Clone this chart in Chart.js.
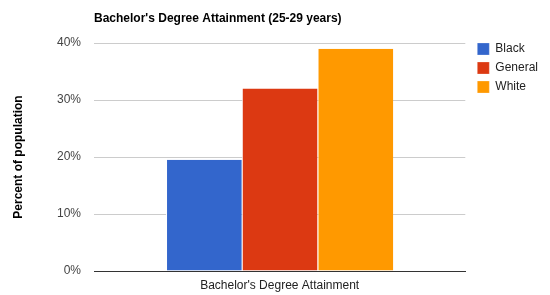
<!DOCTYPE html>
<html>
<head>
<meta charset="utf-8">
<script src="https://cdn.jsdelivr.net/npm/chart.js@4/dist/chart.umd.min.js"></script>
<style>
html,body{margin:0;padding:0;background:#fff;}
canvas{display:block;}
</style>
</head>
<body>
<canvas id="c" width="550" height="295"></canvas>
<script>
const categories = ["Bachelor's Degree Attainment"];
const seriesNames = ["Black", "General", "White"];
const blackValues = [19.5];
const generalValues = [32];
const whiteValues = [39];
const seriesColors = ["#3366cc", "#dc3912", "#ff9900"];
const yTicks = [0, 10, 20, 30, 40];
const chartTitle = "Bachelor's Degree Attainment (25-29 years)";
const yTitle = "Percent of population";

const FONT = "Arial, 'Liberation Sans', sans-serif";

const legendNudge = {
  id: 'legendNudge',
  afterLayout(chart) {
    const l = chart.legend;
    if (!l) return;
    const dx = 5, dy = -7;
    l.left += dx; l.right += dx; l.top += dy; l.bottom += dy;
  }
};

const seriesValues = [blackValues, generalValues, whiteValues];

new Chart(document.getElementById('c'), {
  type: 'bar',
  data: {
    labels: categories,
    datasets: seriesNames.map((n, i) => ({
      label: n,
      data: seriesValues[i],
      backgroundColor: seriesColors[i],
      borderColor: '#ffffff',
      borderWidth: {left: 1, right: 0, top: 0, bottom: 0},
      borderSkipped: false,
      barPercentage: 1,
      categoryPercentage: 0.612
    }))
  },
  options: {
    responsive: false,
    animation: false,
    layout: { padding: { left: 0, right: 7, top: 0, bottom: 0 } },
    plugins: {
      title: {
        display: true,
        text: chartTitle,
        align: 'start',
        fullSize: false,
        color: '#000',
        font: { family: FONT, size: 12, weight: 'bold' },
        padding: { top: 11, bottom: 17.6 }
      },
      legend: {
        display: true,
        position: 'right',
        align: 'start',
        fullSize: false,
        labels: {
          boxWidth: 12,
          boxHeight: 12,
          padding: 7,
          color: '#222',
          font: { family: FONT, size: 12 }
        }
      },
      tooltip: { enabled: false }
    },
    scales: {
      x: {
        grid: { display: false, drawTicks: false },
        border: { display: true, color: '#333', width: 1 },
        ticks: { color: '#222', padding: 7, font: { family: FONT, size: 12 } },
        afterFit(s) { s.height = 24; }
      },
      y: {
        min: 0,
        max: 40,
        afterBuildTicks(s) { s.ticks = yTicks.map(v => ({ value: v })); },
        grid: {
          drawTicks: false,
          color: ctx => (ctx.tick && ctx.tick.value === 0) ? '#333' : '#cccccc',
          lineWidth: 1
        },
        border: { display: false },
        ticks: {
          color: '#444',
          padding: 13,
          font: { family: FONT, size: 12 },
          callback: v => v + '%'
        },
        title: {
          display: true,
          text: yTitle,
          color: '#000',
          font: { family: FONT, size: 12, weight: 'bold' },
          padding: { top: 11, bottom: 0 }
        },
        afterFit(s) { s.width = 94; }
      }
    }
  },
  plugins: [legendNudge]
});
</script>
</body>
</html>
